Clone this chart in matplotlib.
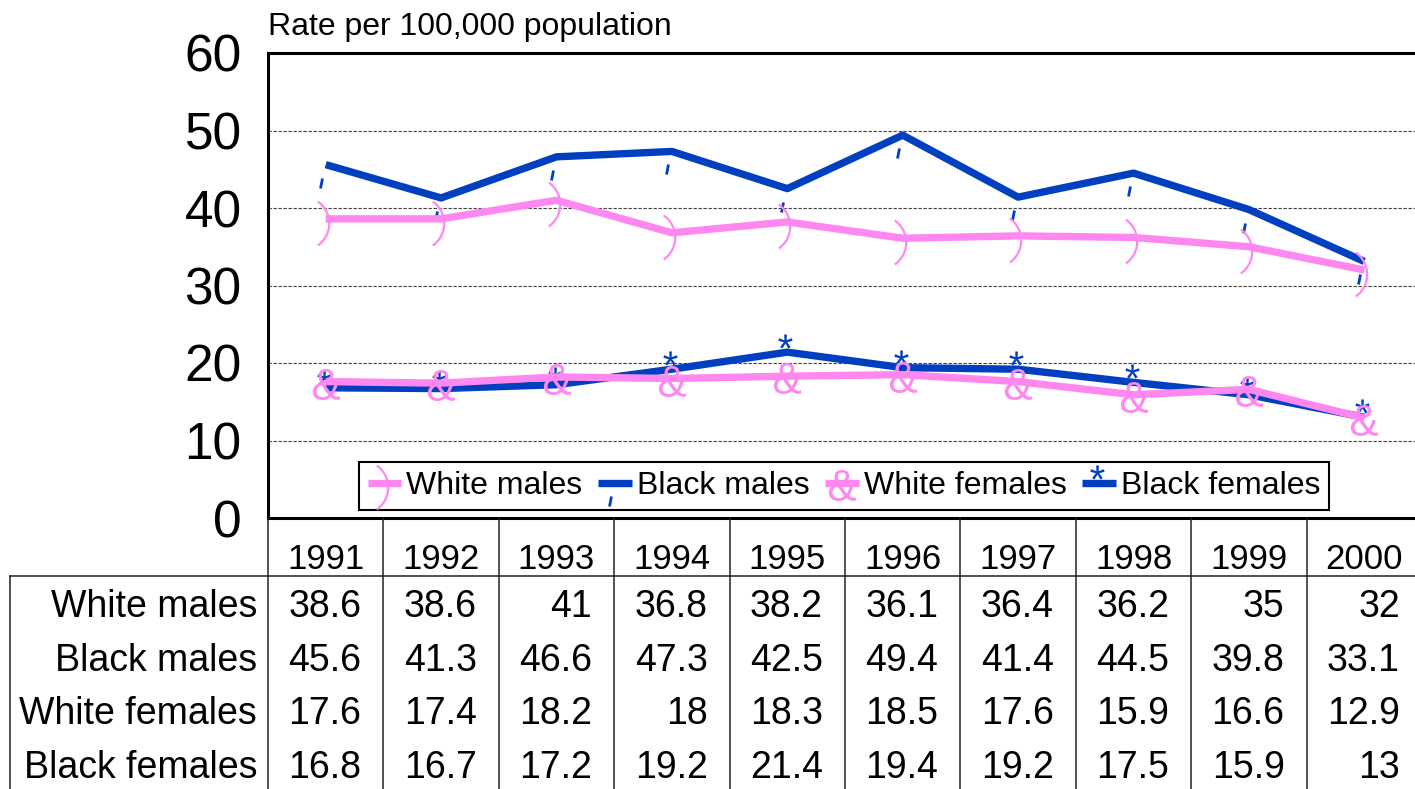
import numpy as np
import matplotlib
matplotlib.use("Agg")
import matplotlib.pyplot as plt
import matplotlib.transforms as mtransforms
from matplotlib.textpath import TextPath
from matplotlib.font_manager import FontProperties
from matplotlib.path import Path
from matplotlib.markers import MarkerStyle
from matplotlib.lines import Line2D

W, H, DPI = 1415, 789, 100
plt.rcParams['font.family'] = ['Liberation Sans', 'DejaVu Sans']

years = [1991, 1992, 1993, 1994, 1995, 1996, 1997, 1998, 1999, 2000]
white_males = [38.6, 38.6, 41, 36.8, 38.2, 36.1, 36.4, 36.2, 35, 32]
black_males = [45.6, 41.3, 46.6, 47.3, 42.5, 49.4, 41.4, 44.5, 39.8, 33.1]
white_females = [17.6, 17.4, 18.2, 18, 18.3, 18.5, 17.6, 15.9, 16.6, 12.9]
black_females = [16.8, 16.7, 17.2, 19.2, 21.4, 19.4, 19.2, 17.5, 15.9, 13]
row_names = ['White males', 'Black males', 'White females', 'Black females']

BLUE = '#0040c0'
PINK = '#ff88f0'


def fy(py):
    return 1 - py / H


def glyph_marker(ch, height, dx, dy):
    # glyph outline as a marker path, shifted (dx, dy) pixels off the point
    tp = TextPath((0, 0), ch, size=100, prop=FontProperties(family='Liberation Sans'))
    ext = tp.get_extents()
    c = np.array([ext.x0 + ext.width / 2, ext.y0 + ext.height / 2])
    v = (tp.vertices - c) * (height / ext.height) + (dx, dy)
    r = np.abs(v).max()
    return MarkerStyle(Path(v, tp.codes)), 2 * r * 72 / DPI


def open_marker(verts):
    v = np.asarray(verts, dtype=float)
    r = np.abs(v).max()
    return MarkerStyle(Path(v), fillstyle='none'), 2 * r * 72 / DPI


def arc_verts(height, dx, dy, half_angle=55):
    # thin ")" shaped arc, its ink centred at (dx, dy)
    rad = height / 2 / np.sin(np.radians(half_angle))
    t = np.radians(np.linspace(-half_angle, half_angle, 25))
    width = rad * (1 - np.cos(np.radians(half_angle)))
    cx = dx + width / 2 - rad
    return np.column_stack([cx + rad * np.cos(t), dy + rad * np.sin(t)])


fig = plt.figure(figsize=(W / DPI, H / DPI), dpi=DPI)
ax = fig.add_axes([268 / W, fy(518), 1154 / W, 465 / H])
x = np.arange(len(years))

wm_m, wm_ms = open_marker(arc_verts(44, -3, -4))
bm_m, bm_ms = open_marker([(-6, -23), (-4, -13)])
wf_m, wf_ms = glyph_marker('&', 31, 0, -2)
bf_m, bf_ms = glyph_marker('*', 14, -2, 11)

common = dict(lw=5.3, solid_joinstyle='round', solid_capstyle='butt')
l_bf, = ax.plot(x, black_females, color=BLUE, marker=bf_m, ms=bf_ms, mfc=BLUE, mew=0, zorder=3, **common)
l_bm, = ax.plot(x, black_males, color=BLUE, marker=bm_m, ms=bm_ms, mec=BLUE, mew=2.0, zorder=3, **common)
l_wf, = ax.plot(x, white_females, color=PINK, marker=wf_m, ms=wf_ms, mfc=PINK, mew=0, zorder=4, **common)
l_wm, = ax.plot(x, white_males, color=PINK, marker=wm_m, ms=wm_ms, mec=PINK, mew=1.6, zorder=4, **common)

ax.set_xlim(-0.5, len(years) - 0.5)
ax.set_ylim(0, 60)
ax.set_yticks(range(0, 61, 10))
ax.set_xticks([])
ax.tick_params(axis='y', length=0, pad=19, labelsize=37)
ax.yaxis.grid(True, linestyle=(0, (3, 1.5)), color='#404040', lw=0.8)
ax.set_axisbelow(True)
for side in ['left', 'top', 'bottom']:
    ax.spines[side].set_linewidth(2.2)
ax.spines['right'].set_visible(False)

leg = ax.legend([l_wm, l_bm, l_wf, l_bf], row_names, loc='center',
                bbox_to_anchor=(844 / W, fy(486)), bbox_transform=fig.transFigure,
                ncol=4, fontsize=23, fancybox=False, edgecolor='black', framealpha=1,
                borderpad=0.28, handlelength=1.05, handletextpad=0.15,
                columnspacing=0.5, borderaxespad=0)
leg.get_frame().set_linewidth(1.5)

fig.text(268 / W, fy(35), 'Rate per 100,000 population', fontsize=23, ha='left', va='baseline')

# data table under the plot
trans = mtransforms.blended_transform_factory(ax.transData, fig.transFigure)
grid_kw = dict(color='#222222', lw=1.1)
for k in range(len(years) + 1):
    fig.add_artist(Line2D([k - 0.5, k - 0.5], [fy(518), 0], transform=trans, **grid_kw))
fig.add_artist(Line2D([10 / W, 1], [fy(576), fy(576)], transform=fig.transFigure, **grid_kw))
fig.add_artist(Line2D([10 / W, 10 / W], [fy(576), 0], transform=fig.transFigure, **grid_kw))

for i, yr in enumerate(years):
    ax.text(i, fy(569), str(yr), transform=trans, ha='center', va='baseline', fontsize=25)

pad = 22 / 115.4
for r, vals in enumerate([white_males, black_males, white_females, black_females]):
    base = fy(617 + 53.7 * r)
    fig.text(257 / W, base, row_names[r], ha='right', va='baseline', fontsize=27)
    for i, v in enumerate(vals):
        ax.text(i + 0.5 - pad, base, f'{v:g}', transform=trans, ha='right', va='baseline', fontsize=27)

fig.savefig('out.png', dpi=DPI)
